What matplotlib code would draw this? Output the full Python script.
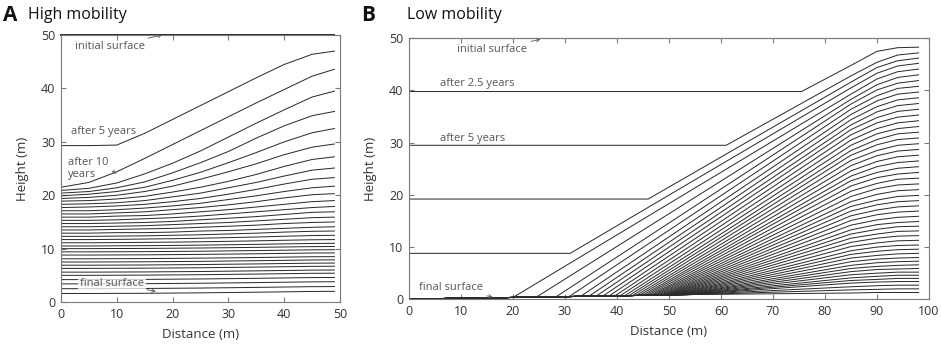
import matplotlib
matplotlib.use("Agg")
import matplotlib.pyplot as plt

plt.rcParams['font.family'] = ['Open Sans', 'DejaVu Sans']

# ---------------- panel A: high mobility ----------------
# distance stations (m) at which each profile height was read
dist_a = [0, 5, 10, 15, 20, 25, 30, 35, 40, 45, 49]
initial_a = 50.0
# one row per profile, top (after 5 years) to bottom (final surface)
height_a = [
    [29.3, 29.3, 29.4, 31.6, 34.2, 36.8, 39.4, 42.0, 44.5, 46.4, 47.0],
    [21.5, 22.4, 24.4, 26.9, 29.5, 32.1, 34.7, 37.3, 39.8, 42.3, 43.6],
    [20.9, 21.3, 22.3, 24.0, 26.0, 28.3, 30.9, 33.5, 36.0, 38.4, 39.5],
    [20.4, 20.7, 21.4, 22.5, 24.2, 26.1, 28.2, 30.7, 33.0, 34.9, 35.7],
    [19.9, 20.2, 20.7, 21.5, 22.8, 24.3, 26.1, 28.0, 30.0, 31.7, 32.5],
    [19.4, 19.6, 20.0, 20.7, 21.7, 23.0, 24.4, 25.9, 27.6, 29.0, 29.6],
    [18.9, 19.0, 19.3, 19.8, 20.6, 21.5, 22.6, 23.9, 25.4, 26.7, 27.2],
    [18.3, 18.4, 18.6, 19.0, 19.7, 20.4, 21.4, 22.4, 23.6, 24.7, 25.1],
    [17.7, 17.8, 18.0, 18.3, 18.8, 19.4, 20.2, 21.1, 22.1, 23.0, 23.3],
    [17.1, 17.1, 17.3, 17.6, 18.0, 18.5, 19.2, 19.9, 20.7, 21.4, 21.7],
    [16.5, 16.5, 16.7, 16.9, 17.3, 17.7, 18.2, 18.8, 19.5, 20.1, 20.3],
    [15.9, 15.9, 16.1, 16.2, 16.5, 16.9, 17.3, 17.8, 18.3, 18.8, 19.0],
    [15.3, 15.3, 15.4, 15.6, 15.8, 16.1, 16.5, 16.9, 17.3, 17.7, 17.9],
    [14.7, 14.7, 14.8, 14.9, 15.1, 15.4, 15.7, 16.0, 16.4, 16.8, 16.9],
    [14.1, 14.1, 14.2, 14.3, 14.5, 14.7, 14.9, 15.2, 15.5, 15.8, 15.9],
    [13.5, 13.5, 13.6, 13.7, 13.8, 14.0, 14.2, 14.4, 14.7, 14.9, 15.0],
    [12.9, 12.9, 13.0, 13.0, 13.1, 13.3, 13.4, 13.6, 13.8, 14.0, 14.1],
    [12.3, 12.3, 12.35, 12.4, 12.5, 12.6, 12.75, 12.9, 13.1, 13.25, 13.3],
    [11.7, 11.7, 11.74, 11.8, 11.86, 11.95, 12.06, 12.18, 12.32, 12.45, 12.5],
    [11.1, 11.1, 11.13, 11.17, 11.22, 11.29, 11.37, 11.46, 11.57, 11.66, 11.7],
    [10.5, 10.5, 10.53, 10.56, 10.6, 10.66, 10.73, 10.8, 10.89, 10.97, 11.0],
    [10.0, 10.0, 10.02, 10.04, 10.08, 10.12, 10.18, 10.24, 10.31, 10.38, 10.4],
    [9.4, 9.4, 9.42, 9.44, 9.48, 9.52, 9.58, 9.64, 9.71, 9.78, 9.8],
    [8.8, 8.8, 8.82, 8.84, 8.88, 8.92, 8.98, 9.04, 9.11, 9.18, 9.2],
    [8.1, 8.1, 8.12, 8.14, 8.18, 8.22, 8.28, 8.34, 8.41, 8.48, 8.5],
    [7.5, 7.5, 7.52, 7.54, 7.58, 7.62, 7.68, 7.74, 7.81, 7.88, 7.9],
    [6.9, 6.9, 6.92, 6.94, 6.98, 7.02, 7.08, 7.14, 7.21, 7.28, 7.3],
    [6.3, 6.3, 6.32, 6.34, 6.38, 6.42, 6.48, 6.54, 6.61, 6.68, 6.7],
    [5.6, 5.6, 5.62, 5.64, 5.68, 5.72, 5.78, 5.84, 5.91, 5.98, 6.0],
    [5.0, 5.0, 5.02, 5.04, 5.08, 5.12, 5.18, 5.24, 5.31, 5.38, 5.4],
    [4.2, 4.2, 4.22, 4.24, 4.28, 4.32, 4.38, 4.44, 4.51, 4.58, 4.6],
    [3.4, 3.4, 3.42, 3.44, 3.48, 3.52, 3.58, 3.64, 3.71, 3.78, 3.8],
    [2.5, 2.5, 2.52, 2.54, 2.58, 2.62, 2.68, 2.74, 2.81, 2.88, 2.9],
    [1.6, 1.6, 1.62, 1.64, 1.68, 1.72, 1.78, 1.84, 1.91, 1.98, 2.0],
]

# ---------------- panel B: low mobility ----------------
initial_b = 50.0
# profiles still carrying a flat plateau (after 2.5, 5, 7.5, 10 years)
plateau_b = [39.8, 29.5, 19.2, 8.8]
knee_b = [75.5, 61.0, 46.0, 31.0]
# later profiles run along the eroded base, then leave it at their own knee
base_x_b = [0, 20]
base_y_b = [0.05, 0.35]
lower_knee_b = [20, 24.5, 28.3, 30.8, 33, 34.6, 36, 37.3, 38.5, 39.6,
                40.6, 41.5, 42.3, 43, 43.7, 44.3, 44.9, 45.4, 45.9, 46.4,
                46.8, 47.2, 47.6, 48, 48.4, 48.7, 49, 49.3, 49.6, 49.9,
                50.2, 50.5, 50.8, 51.1, 51.4, 51.7, 52, 52.3, 52.6, 52.9,
                53.2, 53.5, 53.8, 54.1, 54.4, 54.7]
lower_knee_h_b = [0.35, 0.42, 0.48, 0.52, 0.56, 0.58, 0.61, 0.63, 0.65, 0.66,
                  0.68, 0.69, 0.71, 0.72, 0.73, 0.74, 0.75, 0.76, 0.76, 0.77,
                  0.78, 0.79, 0.79, 0.8, 0.8, 0.81, 0.81, 0.82, 0.82, 0.83,
                  0.83, 0.84, 0.84, 0.85, 0.85, 0.86, 0.86, 0.87, 0.87, 0.88,
                  0.88, 0.89, 0.89, 0.9, 0.9, 0.91]
# heights read near the right boundary, one row per profile
tail_x_b = [85, 90, 94, 98]
tail_b = [
    [44.8, 47.5, 48.2, 48.3], [42.8, 45.4, 46.8, 47.2], [41.6, 44.4, 45.7, 46.2],
    [40.5, 43.3, 44.7, 45.2], [39.3, 42.2, 43.6, 44.1], [38.3, 41.1, 42.5, 43.0],
    [37.4, 40.1, 41.4, 41.9], [36.4, 39.0, 40.4, 40.8], [35.4, 38.0, 39.3, 39.7],
    [34.4, 36.9, 38.2, 38.6], [33.4, 35.9, 37.1, 37.5], [32.5, 34.8, 36.0, 36.4],
    [31.5, 33.8, 34.9, 35.3], [30.5, 32.7, 33.8, 34.2], [29.5, 31.7, 32.7, 33.1],
    [28.5, 30.6, 31.7, 32.0], [27.6, 29.6, 30.6, 30.9], [26.6, 28.5, 29.5, 29.8],
    [25.6, 27.5, 28.4, 28.7], [24.6, 26.4, 27.3, 27.6], [23.6, 25.4, 26.2, 26.5],
    [22.7, 24.3, 25.1, 25.4], [21.7, 23.3, 24.0, 24.3], [20.7, 22.2, 23.0, 23.2],
    [19.7, 21.2, 21.9, 22.1], [18.7, 20.1, 20.8, 21.0], [17.8, 19.0, 19.7, 19.9],
    [16.9, 18.1, 18.7, 18.9], [16.0, 17.1, 17.7, 17.9], [15.1, 16.2, 16.7, 16.9],
    [14.2, 15.2, 15.7, 15.9], [13.3, 14.3, 14.7, 14.9], [12.5, 13.4, 13.9, 14.0],
    [11.7, 12.5, 13.0, 13.1], [10.9, 11.7, 12.1, 12.2], [10.1, 10.8, 11.2, 11.3],
    [9.3, 10.0, 10.3, 10.4], [8.6, 9.2, 9.5, 9.6], [7.9, 8.4, 8.7, 8.8],
    [7.2, 7.7, 7.9, 8.0], [6.5, 7.0, 7.2, 7.3], [5.9, 6.3, 6.5, 6.6],
    [5.3, 5.7, 5.8, 5.9], [4.7, 5.0, 5.2, 5.2], [4.1, 4.4, 4.6, 4.6],
    [3.6, 3.8, 4.0, 4.0], [3.1, 3.3, 3.4, 3.4], [2.4, 2.6, 2.7, 2.7],
    [1.8, 1.9, 2.0, 2.0], [1.2, 1.3, 1.3, 1.3],
]

line_c = '#2b2b2b'
text_c = '#555555'
axis_c = '#7a7a7a'
lw = 0.72

fig = plt.figure(figsize=(9.41, 3.44), dpi=100)
ax_a = fig.add_axes([0.0648, 0.122, 0.2965, 0.776])
ax_b = fig.add_axes([0.4346, 0.130, 0.5526, 0.7587])


def style(ax, xmax):
    ax.set_xlim(0, xmax)
    ax.set_ylim(0, 50)
    ax.set_xticks(range(0, xmax + 1, 10))
    ax.set_yticks(range(0, 51, 10))
    ax.tick_params(direction='in', top=True, right=True, length=3.5, width=0.8,
                   color=axis_c, labelcolor='#333333', labelsize=9, pad=4)
    for sp in ax.spines.values():
        sp.set_color(axis_c)
        sp.set_linewidth(0.8)
    ax.set_xlabel('Distance (m)', fontsize=9.5, color='#333333', labelpad=5)
    ax.set_ylabel('Height (m)', fontsize=9.5, color='#333333', labelpad=9)


# panel A curves
ax_a.plot([0, 49], [initial_a, initial_a], color=line_c, lw=1.4, clip_on=False)
for row in height_a:
    ax_a.plot(dist_a, row, color=line_c, lw=lw)
style(ax_a, 50)

arrow = dict(arrowstyle='->', color=text_c, lw=0.6, mutation_scale=6,
             shrinkA=1, shrinkB=0)
ax_a.annotate('initial surface', xy=(18.1, 50), xytext=(2.5, 47.8),
              ha='left', va='center', fontsize=8, color=text_c, arrowprops=arrow)
ax_a.text(1.8, 32.0, 'after 5 years', ha='left', va='center', fontsize=8, color=text_c)
ax_a.annotate('after 10\nyears', xy=(10.0, 24.1), xytext=(1.2, 25.0),
              ha='left', va='center', fontsize=8, color=text_c, linespacing=1.05,
              arrowprops=dict(arrow, relpos=(0.82, 0.6)))
ax_a.annotate('final surface', xy=(17.0, 2.0), xytext=(3.4, 3.5),
              ha='left', va='center', fontsize=8, color=text_c, arrowprops=arrow,
              bbox=dict(boxstyle='square,pad=0.15', fc='white', ec='none', alpha=0.75))

# panel B curves (initial surface sits on the top frame, drawn in frame grey)
ax_b.plot([0, 100], [initial_b, initial_b], color=axis_c, lw=0.8, clip_on=False)
n_up = len(plateau_b)
for i, tail in enumerate(tail_b):
    if i < n_up:
        xs = [0, knee_b[i]] + tail_x_b
        ys = [plateau_b[i], plateau_b[i]] + tail
    else:
        j = i - n_up
        xs = base_x_b + [lower_knee_b[j]] + tail_x_b
        ys = base_y_b + [lower_knee_h_b[j]] + tail
    ax_b.plot(xs, ys, color=line_c, lw=lw)
style(ax_b, 100)

ax_b.annotate('initial surface', xy=(25.3, 49.8), xytext=(9.2, 47.8),
              ha='left', va='center', fontsize=8, color=text_c, arrowprops=arrow)
ax_b.text(5.9, 41.3, 'after 2.5 years', ha='left', va='center', fontsize=8, color=text_c)
ax_b.text(5.9, 30.8, 'after 5 years', ha='left', va='center', fontsize=8, color=text_c)
ax_b.annotate('final surface', xy=(16.1, 0.4), xytext=(1.9, 2.3),
              ha='left', va='center', fontsize=8, color=text_c, arrowprops=arrow)

# panel headings
fig.text(0.003, 0.955, 'A', fontsize=15, fontweight='bold', va='center', color='#111111')
fig.text(0.030, 0.955, 'High mobility', fontsize=11.5, va='center', color='#111111')
fig.text(0.384, 0.955, 'B', fontsize=15, fontweight='bold', va='center', color='#111111')
fig.text(0.433, 0.955, 'Low mobility', fontsize=11.5, va='center', color='#111111')

fig.savefig('out.png', dpi=100)
